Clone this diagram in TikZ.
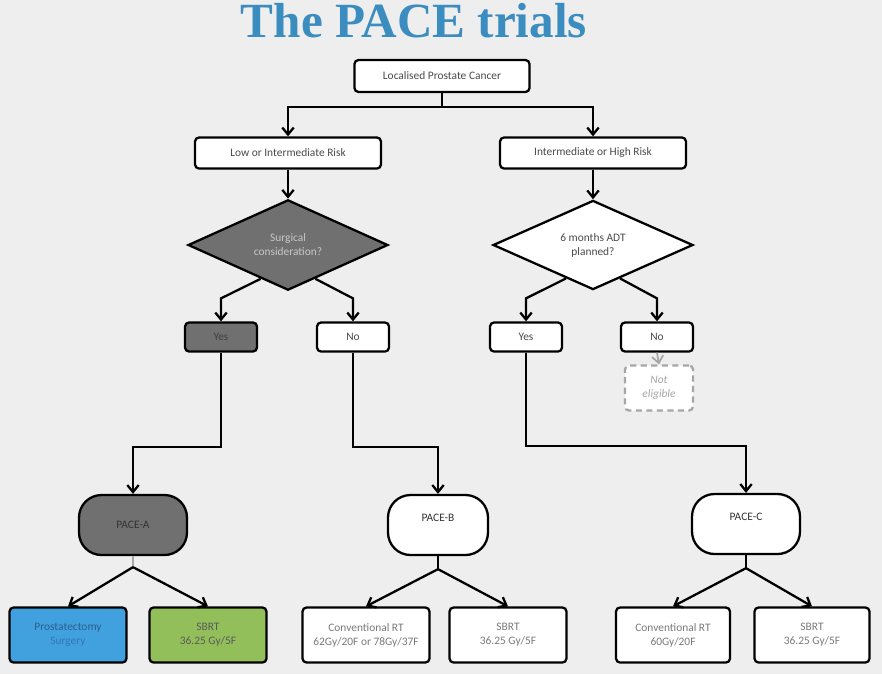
\documentclass[tikz,border=0pt]{standalone}
\usepackage{fontspec}
\setsansfont{Carlito}
\newfontfamily\titlefont{Liberation Serif}
\usetikzlibrary{shapes.geometric,arrows.meta,calc}
\definecolor{slidebg}{HTML}{EEEEEE}
\definecolor{titleblue}{HTML}{3B8DBF}
\definecolor{darkfill}{HTML}{707070}
\definecolor{surgblue}{HTML}{41A1DF}
\definecolor{sbrtgreen}{HTML}{93BF5B}
\definecolor{boxtext}{HTML}{4A4A4A}
\definecolor{softtext}{HTML}{7A7A7A}
\definecolor{surgtext}{HTML}{2C5F8F}
\definecolor{surgsub}{HTML}{3079B5}
\begin{document}
\begin{tikzpicture}[x=0.02cm, y=-0.02cm, font=\sffamily\fontsize{6.5}{8}\selectfont,
          >={Straight Barb[length=4pt,width=6.5pt]}, line width=1.3pt,
          box/.style={draw, rounded corners=0.08cm, fill=white, align=center, text=boxtext, inner sep=1pt},
          risk/.style={box, minimum width=3.72cm, minimum height=0.62cm},
          choice/.style={box, minimum width=1.44cm, minimum height=0.58cm},
          query/.style={diamond, draw, align=center, inner sep=0pt, minimum width=4cm, minimum height=1.76cm},
          trial/.style={box, rounded corners=0.45cm, minimum width=2.16cm, minimum height=1.2cm, text=black!80},
          arm/.style={box, minimum width=2.34cm, minimum height=1.1cm, text=softtext},
          shaded/.style={fill=darkfill}]
        \useasboundingbox (0,0) rectangle (882,674);
        \fill[slidebg] (0,0) rectangle (882,674);
        \node[text=titleblue, font=\titlefont\bfseries\fontsize{28}{30}\selectfont] (title) at (414,21) {The PACE trials};
        \node[box, minimum width=3.5cm, minimum height=0.64cm] (lpc) at (442,76) {Localised Prostate Cancer};
        \node[risk] (lir) at (288,153) {Low or Intermediate Risk};
        \node[risk] (ihr) at (593,153) {Intermediate or High Risk};
        \node[query, shaded, text=white!78!black] (surg) at (288,245) {Surgical\\ consideration?};
        \node[query, fill=white, text=boxtext] (adt) at (593,245) {6 months ADT\\ planned?};
        \node[choice, shaded, text=black!75] (yesa) at (221,337) {Yes};
        \node[choice] (noa) at (353,337) {No};
        \node[choice] (yesc) at (526,337) {Yes};
        \node[choice] (nox) at (657,337) {No};
        \node[box, draw=black!35, dash pattern=on 3.5pt off 2.5pt, text=black!35, font=\sffamily\itshape\fontsize{6.5}{8}\selectfont,
              minimum width=1.36cm, minimum height=0.9cm] (nelig) at (659,388) {Not\\ eligible};
        \node[trial, shaded] (pacea) at (133,525) {PACE-A};
        \node[trial, minimum width=2cm, text depth=0.3cm] (paceb) at (438,525) {PACE-B};
        \node[trial, text depth=0.3cm] (pacec) at (746,524) {PACE-C};
        \node[arm, fill=surgblue, text=surgtext] (prost) at (68,635) {Prostatectomy\\ {\color{surgsub}Surgery}};
        \node[arm, fill=sbrtgreen, text=black!65] (sbrta) at (208,635) {SBRT\\ 36.25 Gy/5F};
        \node[arm, minimum width=2.54cm] (convb) at (366,635) {Conventional RT\\ 62Gy/20F or 78Gy/37F};
        \node[arm] (sbrtb) at (508,635) {SBRT\\ 36.25 Gy/5F};
        \node[arm, minimum width=2.28cm] (convc) at (673,635) {Conventional RT\\ 60Gy/20F};
        \node[arm, minimum width=2.3cm] (sbrtc) at (812,635) {SBRT\\ 36.25 Gy/5F};
        % top split
        \coordinate (split) at ($(lpc.south)+(0,14)$);
        \draw (lpc.south) -- (split);
        \draw[->] (split) -| (lir.north);
        \draw[->] (split) -| (ihr.north);
        \draw[->] (lir.south) -- (surg.north);
        \draw[->] (ihr.south) -- (adt.north);
        % decisions
        \draw[->] (surg.231) -- ($(yesa.north)+(0,-23)$) -- (yesa.north);
        \draw[->] (surg.309) -- ($(noa.north)+(0,-23)$) -- (noa.north);
        \draw[->] (adt.231) -- ($(yesc.north)+(0,-23)$) -- (yesc.north);
        \draw[->] (adt.309) -- ($(nox.north)+(0,-23)$) -- (nox.north);
        \draw[->, draw=black!35, line width=1pt] (nox.south) -- (nelig.north);
        % to the trials
        \draw[->] (yesa.south) |- ($(pacea.north)+(0,-47)$) -- (pacea.north);
        \draw[->] (noa.south) |- ($(paceb.north)+(0,-47)$) -- (paceb.north);
        \draw[->] (yesc.south) |- ($(pacec.north)+(0,-47)$) -- (pacec.north);
        % arms
        \coordinate (forka) at ($(pacea.south)+(0,11)$);
        \coordinate (forkb) at ($(paceb.south)+(0,13)$);
        \coordinate (forkc) at ($(pacec.south)+(0,13)$);
        \draw[black!35, line width=0.6pt] (pacea.south) -- (forka);
        \draw (paceb.south) -- (forkb);
        \draw (pacec.south) -- (forkc);
        \draw[->] (forka) -- (prost.north);
        \draw[->] (forka) -- (sbrta.north);
        \draw[->] (forkb) -- (convb.north);
        \draw[->] (forkb) -- (sbrtb.north);
        \draw[->] (forkc) -- (convc.north);
        \draw[->] (forkc) -- (sbrtc.north);
      \end{tikzpicture}
\end{document}
